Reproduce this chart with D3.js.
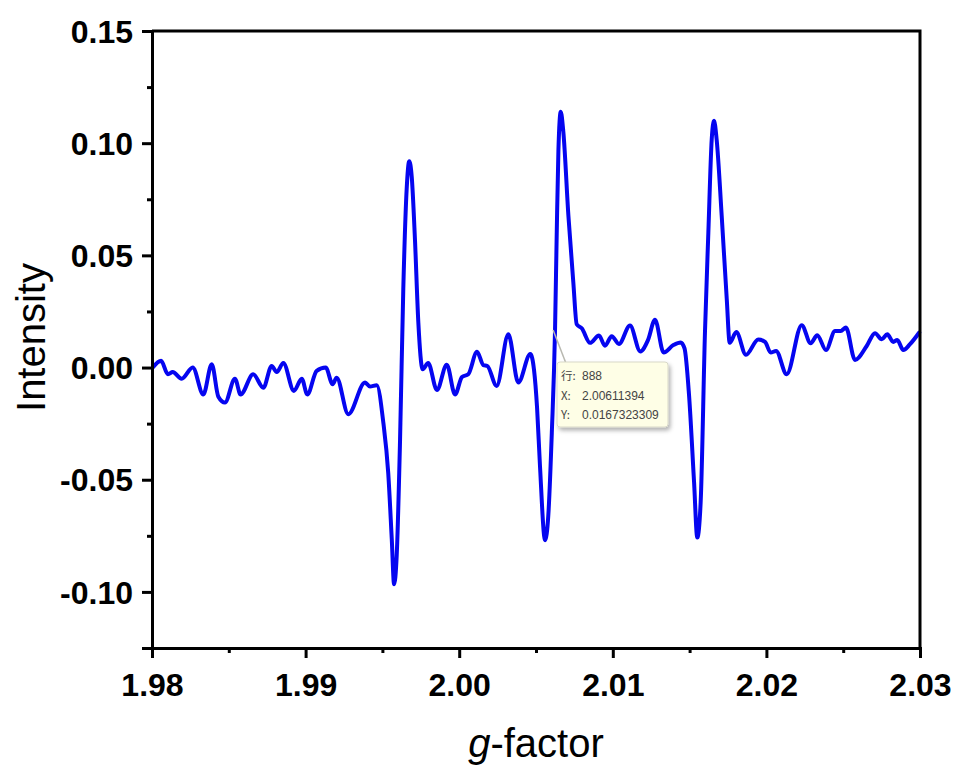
<!DOCTYPE html>
<html>
<head>
<meta charset="utf-8">
<script src="https://cdn.jsdelivr.net/npm/d3@7"></script>
<style>
  html, body { margin: 0; padding: 0; background: #fff; }
  svg { display: block; }
</style>
</head>
<body>
<svg id="chart" width="956" height="766"></svg>
<script>
// ---- data ----
const gFactor = [
  1.98005,1.98059,1.98104,1.98135,1.98193,1.98265,1.98334,1.98389,1.98432,1.98475,
  1.98540,1.98577,1.98659,1.98725,1.98779,1.98812,1.98855,1.98924,1.98975,1.99011,
  1.99072,1.99131,1.99176,1.99202,1.99278,1.99387,1.99419,1.99463,1.99506,1.99538,
  1.99561,1.99576,1.99593,1.99615,1.99636,1.99658,1.99675,1.99691,1.99712,1.99734,
  1.99762,1.99798,1.99855,1.99919,1.99973,2.00018,2.00059,2.00116,2.00157,2.00183,
  2.00244,2.00320,2.00385,2.00463,2.00487,2.00507,2.00526,2.00559,2.00580,2.00603,
  2.00624,2.00635,2.00646,2.00661,2.00678,2.00711,2.00743,2.00765,2.00798,2.00852,
  2.00910,2.00949,2.00993,2.01040,2.01112,2.01179,2.01229,2.01275,2.01331,2.01394,
  2.01442,2.01467,2.01496,2.01529,2.01550,2.01572,2.01600,2.01622,2.01644,2.01659,
  2.01676,2.01709,2.01742,2.01761,2.01804,2.01867,2.01947,2.01991,2.02028,2.02063,
  2.02132,2.02230,2.02288,2.02331,2.02388,2.02447,2.02484,2.02518,2.02577,2.02653,
  2.02707,2.02751,2.02787,2.02826,2.02852,2.02891,2.02935,2.02995
];
const intensity = [
  0.0000,0.0030,-0.0030,-0.0020,-0.0050,0.0000,-0.0120,0.0015,-0.0130,-0.0156,
  -0.0050,-0.0120,-0.0030,-0.0090,0.0007,-0.0020,0.0020,-0.0104,-0.0050,-0.0120,
  -0.0015,0.0000,-0.0074,-0.0045,-0.0208,-0.0067,-0.0085,-0.0079,-0.0245,-0.0470,
  -0.0765,-0.0966,-0.0840,-0.0320,0.0350,0.0795,0.0920,0.0850,0.0570,0.0200,
  -0.0008,0.0020,-0.0100,0.0013,-0.0120,-0.0042,-0.0030,0.0070,0.0011,0.0007,
  -0.0082,0.0148,-0.0067,0.0060,-0.0010,-0.0180,-0.0440,-0.0770,-0.0660,-0.0290,
  0.0170,0.0600,0.0970,0.1140,0.1050,0.0676,0.0380,0.0193,0.0175,0.0110,
  0.0143,0.0097,0.0140,0.0105,0.0187,0.0072,0.0122,0.0213,0.0067,0.0100,
  0.0112,0.0085,-0.0120,-0.0510,-0.0758,-0.0600,0.0156,0.0600,0.1017,0.1100,
  0.1017,0.0676,0.0304,0.0110,0.0158,0.0057,0.0125,0.0114,0.0067,0.0074,
  -0.0030,0.0189,0.0108,0.0144,0.0078,0.0163,0.0163,0.0178,0.0034,0.0096,
  0.0153,0.0126,0.0148,0.0114,0.0123,0.0078,0.0104,0.0156
];
const xTicks = [1.98, 1.99, 2.00, 2.01, 2.02, 2.03];
const xMinorTicks = [1.985, 1.995, 2.005, 2.015, 2.025];
const yTicks = [-0.10, -0.05, 0.00, 0.05, 0.10, 0.15];
const yMinorTicks = [-0.125, -0.075, -0.025, 0.025, 0.075, 0.125];
const xDomain = [1.98, 2.03];
const yDomain = [-0.125, 0.15];
const xTitleItalic = "g";
const xTitleRest = "-factor";
const yTitle = "Intensity";
const tipLabels = ["行:", "X:", "Y:"];
const tipValues = ["888", "2.00611394", "0.0167323309"];
const tipPoint = {x: 2.00611394, y: 0.0167323309};

// ---- layout ----
const svg = d3.select("#chart");
const L = 152, R = 920, T = 31, B = 648;
const x = d3.scaleLinear().domain(xDomain).range([L, R]);
const y = d3.scaleLinear().domain(yDomain).range([B, T]);
const fmt = d => d3.format(".2f")(d).replace("\u2212", "-");

const data = gFactor.map((g, i) => ({g, v: intensity[i]}));

// curve
const line = d3.line().x(d => x(d.g)).y(d => y(d.v)).curve(d3.curveMonotoneX);
svg.append("path")
  .datum(data)
  .attr("d", line)
  .attr("fill", "none")
  .attr("stroke", "#0505f0")
  .attr("stroke-width", 4)
  .attr("stroke-linejoin", "round")
  .attr("stroke-linecap", "round");

// box (top + right)
svg.append("path")
  .attr("d", `M${L},${T}H${R}V${B}`)
  .attr("fill", "none").attr("stroke", "#000").attr("stroke-width", 3);

// x axis
const xAxis = svg.append("g").attr("transform", `translate(0,${B})`)
  .call(d3.axisBottom(x).tickValues(xTicks).tickFormat(fmt)
        .tickSize(10).tickPadding(15));
const xMinor = svg.append("g").attr("transform", `translate(0,${B})`)
  .call(d3.axisBottom(x).tickValues(xMinorTicks).tickFormat("").tickSize(5));

// y axis
const yAxis = svg.append("g").attr("transform", `translate(${L},0)`)
  .call(d3.axisLeft(y).tickValues(yTicks).tickFormat(fmt)
        .tickSize(10).tickPadding(9));
const yMinor = svg.append("g").attr("transform", `translate(${L},0)`)
  .call(d3.axisLeft(y).tickValues(yMinorTicks).tickFormat("").tickSize(5));

[xAxis, xMinor, yAxis, yMinor].forEach(g => {
  g.select(".domain").attr("stroke", "#000").attr("stroke-width", 3);
  g.selectAll(".tick line").attr("stroke", "#000").attr("stroke-width", 3);
});
[xAxis, yAxis].forEach(g => {
  g.selectAll(".tick text")
    .attr("fill", "#000")
    .style("font-family", "'Liberation Sans', Arial, sans-serif")
    .style("font-weight", "bold")
    .style("font-size", "32px");
});
xAxis.selectAll(".tick text").attr("dy", "0.71em");
yAxis.selectAll(".tick text").attr("dy", "0.35em");

// axis titles
const xt = svg.append("text")
  .attr("x", (L + R) / 2).attr("y", 757)
  .attr("text-anchor", "middle")
  .style("font-family", "'Liberation Sans', Arial, sans-serif")
  .style("font-size", "40px").attr("fill", "#000");
xt.append("tspan").style("font-style", "italic").text(xTitleItalic);
xt.append("tspan").text(xTitleRest);

svg.append("text")
  .attr("transform", `translate(45,${(T + B) / 2 - 2}) rotate(-90)`)
  .attr("text-anchor", "middle")
  .style("font-family", "'Liberation Sans', Arial, sans-serif")
  .style("font-size", "40px").attr("fill", "#000")
  .text(yTitle);

// tooltip
const px = x(tipPoint.x), py = y(tipPoint.y);
const bx = 557, by = 362, bw = 111, bh = 65;
svg.append("line")
  .attr("x1", px).attr("y1", py).attr("x2", bx + 10).attr("y2", by + 4)
  .attr("stroke", "#b8b8b0").attr("stroke-width", 1.5);
const defs = svg.append("defs");
const f = defs.append("filter").attr("id", "sh").attr("x", "-20%").attr("y", "-20%")
  .attr("width", "140%").attr("height", "150%");
f.append("feDropShadow").attr("dx", 2).attr("dy", 3).attr("stdDeviation", 2)
  .attr("flood-color", "#000").attr("flood-opacity", 0.3);
svg.append("rect")
  .attr("x", bx).attr("y", by).attr("width", bw).attr("height", bh)
  .attr("rx", 3).attr("fill", "#fefee6").attr("stroke", "#d8d8c8")
  .attr("stroke-width", 1).attr("filter", "url(#sh)");
tipLabels.forEach((lab, i) => {
  const ty = by + 18 + i * 19.5;
  svg.append("text").attr("x", bx + 4).attr("y", ty)
    .style("font-family", "'Noto Sans CJK SC', 'DejaVu Sans', sans-serif")
    .style("font-size", "11.5px").attr("fill", "#444").text(lab);
  svg.append("text").attr("x", bx + 25).attr("y", ty)
    .style("font-family", "'Liberation Sans', Arial, sans-serif")
    .style("font-size", "12px").attr("fill", "#444").text(tipValues[i]);
});
</script>
</body>
</html>
